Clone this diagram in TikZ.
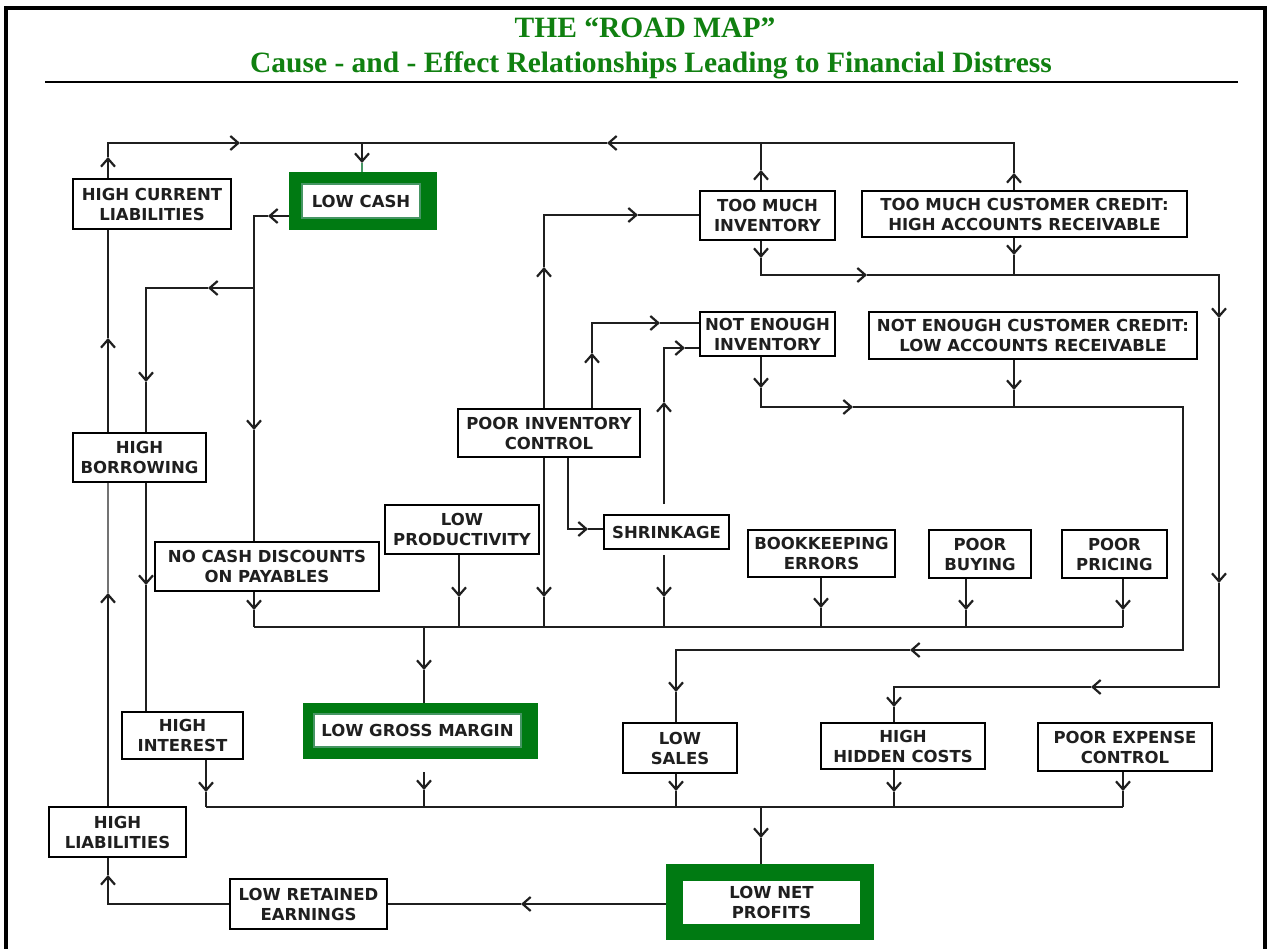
\documentclass[tikz,border=0pt]{standalone}
\usepackage{fontspec}
\usetikzlibrary{arrows.meta}
\newfontfamily\boxfam{DejaVu Sans}
\newfontfamily\titlefam{Liberation Serif}
\definecolor{dgreen}{RGB}{0,122,18}
\definecolor{lgreen}{RGB}{70,150,100}
\definecolor{tgreen}{RGB}{16,128,16}
\newcommand{\bxf}{\boxfam\bfseries\fontsize{16.5}{20}\selectfont}
\newcommand{\ttf}{\titlefam\bfseries\fontsize{29.5}{34}\selectfont}
\tikzset{
  box/.style={draw=black, line width=1.8pt, fill=white, inner sep=0pt, align=center, font=\bxf, text=black!88},
  gouter/.style={fill=dgreen, draw=dgreen, line width=0.5pt, inner sep=0pt},
  ginner/.style={fill=white, draw=lgreen, line width=1.5pt, inner sep=0pt, align=center, font=\bxf, text=black!88},
  con/.style={line width=2.2pt, draw=black!88},
  arr/.style={con, -{Straight Barb[length=8pt,width=14pt,line width=2.2pt]}},
  ttl/.style={font=\ttf, text=tgreen, anchor=base, inner sep=0pt},
}
\begin{document}
\begin{tikzpicture}[x=1pt,y=-1pt]
\useasboundingbox (0,0) rectangle (1267,949);
\fill[white] (0,0) rectangle (1267,949);
% frame and title
\draw[line width=3.5pt] (6,949) -- (6,8) -- (1265,8) -- (1265,949);
\node[ttl] (title1) at (645,38) {THE “ROAD MAP”};
\node[ttl] (title2) at (651,73) {Cause - and - Effect Relationships Leading to Financial Distress};
\draw[line width=1.8pt] (45,82) -- (1238,82);

% boxes
\node[box, minimum width=158, minimum height=50] (hcl) at (152,204) {HIGH CURRENT\\LIABILITIES};
\node[gouter, minimum width=147, minimum height=57] (lowcash) at (362.5,200.5) {};
\node[ginner, minimum width=118, minimum height=34] (lowcashin) at (361,201) {LOW CASH};
\node[box, minimum width=135, minimum height=49] (tmi) at (767.5,215.5) {TOO MUCH\\INVENTORY};
\node[box, minimum width=325, minimum height=46] (tmcc) at (1024.5,214) {TOO MUCH CUSTOMER CREDIT:\\HIGH ACCOUNTS RECEIVABLE};
\node[box, minimum width=135, minimum height=44] (nei) at (767.5,334) {NOT ENOUGH\\INVENTORY};
\node[box, minimum width=328, minimum height=47] (necc) at (1033,335.5) {NOT ENOUGH CUSTOMER CREDIT:\\LOW ACCOUNTS RECEIVABLE};
\node[box, minimum width=133, minimum height=49] (hb) at (139.5,457.5) {HIGH\\BORROWING};
\node[box, minimum width=182, minimum height=48] (pic) at (549,433) {POOR INVENTORY\\CONTROL};
\node[box, minimum width=154, minimum height=49] (lp) at (462,529.5) {LOW\\PRODUCTIVITY};
\node[box, minimum width=125, minimum height=34] (shr) at (666.5,532) {SHRINKAGE};
\node[box, minimum width=224, minimum height=49] (ncd) at (267,566.5) {NO CASH DISCOUNTS\\ON PAYABLES};
\node[box, minimum width=147, minimum height=47] (be) at (821.5,553.5) {BOOKKEEPING\\ERRORS};
\node[box, minimum width=102, minimum height=48] (pb) at (980,554) {POOR\\BUYING};
\node[box, minimum width=105, minimum height=48] (pp) at (1114.5,554) {POOR\\PRICING};
\node[gouter, minimum width=234, minimum height=55] (lgm) at (420,730.5) {};
\node[ginner, minimum width=207, minimum height=33] (lgmin) at (417.5,730.5) {LOW GROSS MARGIN};
\node[box, minimum width=121, minimum height=47] (hi) at (182.5,735.5) {HIGH\\INTEREST};
\node[box, minimum width=114, minimum height=50] (ls) at (680,748) {LOW\\SALES};
\node[box, minimum width=164, minimum height=46] (hhc) at (903,746) {HIGH\\HIDDEN COSTS};
\node[box, minimum width=174, minimum height=48] (pec) at (1125,747) {POOR EXPENSE\\CONTROL};
\node[box, minimum width=137, minimum height=50] (hl) at (117.5,832) {HIGH\\LIABILITIES};
\node[box, minimum width=157, minimum height=50] (lre) at (308.5,904) {LOW RETAINED\\EARNINGS};
\node[gouter, minimum width=207, minimum height=75] (lnp) at (769.5,901.5) {};
\node[ginner, minimum width=177, minimum height=43, draw=none] (lnpin) at (771.5,902.5) {LOW NET\\PROFITS};

% ---- top loop: HIGH CURRENT LIABILITIES -> LOW CASH
\coordinate (tA) at (108,157);
\coordinate (bA) at (108,143);
\coordinate (tB) at (240,143);
\coordinate (bB) at (362,143);
\coordinate (tC) at (362,163);
\draw[arr] (hcl.north -| tA) -- (tA);
\draw[arr] (tA) -- (bA) -- (tB);
\draw[arr] (tB) -- (bB) -- (tC);
\draw[con, draw=lgreen] (tC) -- (lowcash.north -| tC);
% TOO MUCH CUSTOMER CREDIT -> top line
\coordinate (tD) at (1014,173);
\coordinate (bD) at (1014,143);
\coordinate (tE) at (607,143);
\draw[arr] (tmcc.north -| tD) -- (tD);
\draw[arr] (tD) -- (bD) -- (tE);
\draw[con] (tE) -- (bB);
% TOO MUCH INVENTORY -> top line
\coordinate (tF) at (761,170);
\draw[arr] (tmi.north -| tF) -- (tF);
\draw[con] (tF) -- (tF |- bD);

% ---- LOW CASH -> NO CASH DISCOUNTS, HIGH BORROWING
\coordinate (tG) at (268,216);
\coordinate (bG) at (254,216);
\coordinate (jG) at (254,288);
\coordinate (tH) at (254,430);
\draw[arr] (lowcash.west |- tG) -- (tG);
\draw[arr] (tG) -- (bG) -- (tH);
\draw[con] (tH) -- (ncd.north -| tH);
\coordinate (tI) at (208,288);
\coordinate (bI) at (146,288);
\coordinate (tJ) at (146,382);
\draw[arr] (jG) -- (tI);
\draw[arr] (tI) -- (bI) -- (tJ);
\draw[con] (tJ) -- (hb.north -| tJ);
% HIGH BORROWING -> HIGH CURRENT LIABILITIES
\coordinate (tK) at (108,338);
\draw[arr] (hb.north -| tK) -- (tK);
\draw[con] (tK) -- (hcl.south -| tK);
% HIGH LIABILITIES -> HIGH BORROWING
\coordinate (tL) at (108,593);
\draw[arr] (hl.north -| tL) -- (tL);
\draw[con, draw=black!55] (tL) -- (hb.south -| tL);
% HIGH BORROWING -> HIGH INTEREST
\coordinate (tM) at (146,585);
\draw[arr] (hb.south -| tM) -- (tM);
\draw[con] (tM) -- (hi.north -| tM);

% ---- first bus -> LOW GROSS MARGIN
\coordinate (busAL) at (254,627);
\coordinate (busAR) at (1123,627);
\draw[con] (busAL) -- (busAR);
\coordinate (f1) at (254,610);
\coordinate (f2) at (459,597);
\coordinate (f3) at (544,597);
\coordinate (f4) at (664,597);
\coordinate (f5) at (821,608);
\coordinate (f6) at (966,610);
\coordinate (f7) at (1123,610);
\draw[arr] (ncd.south -| f1) -- (f1);
\draw[con] (f1) -- (f1 |- busAL);
\draw[arr] (lp.south -| f2) -- (f2);
\draw[con] (f2) -- (f2 |- busAL);
\draw[arr] (pic.south -| f3) -- (f3);
\draw[con] (f3) -- (f3 |- busAL);
\draw[arr, shorten <=5pt] (shr.south -| f4) -- (f4);
\draw[con] (f4) -- (f4 |- busAL);
\draw[arr] (be.south -| f5) -- (f5);
\draw[con] (f5) -- (f5 |- busAL);
\draw[arr] (pb.south -| f6) -- (f6);
\draw[con] (f6) -- (f6 |- busAL);
\draw[arr] (pp.south -| f7) -- (f7);
\draw[con] (f7) -- (f7 |- busAL);
\coordinate (tN) at (424,670);
\draw[arr] (tN |- busAL) -- (tN);
\draw[con] (tN) -- (lgm.north -| tN);

% ---- POOR INVENTORY CONTROL -> TOO MUCH / NOT ENOUGH INVENTORY, SHRINKAGE
\coordinate (tO) at (544,267);
\coordinate (bO) at (544,215);
\coordinate (tP) at (638,215);
\draw[arr] (pic.north -| tO) -- (tO);
\draw[arr] (tO) -- (bO) -- (tP);
\draw[con] (tP) -- (tmi.west |- tP);
\coordinate (tQ) at (592,353);
\coordinate (bQ) at (592,323);
\coordinate (tR) at (660,323);
\draw[arr] (pic.north -| tQ) -- (tQ);
\draw[arr] (tQ) -- (bQ) -- (tR);
\draw[con] (tR) -- (nei.west |- tR);
\coordinate (bS) at (568,529);
\coordinate (tS) at (588,529);
\draw[arr] (pic.south -| bS) -- (bS) -- (tS);
\draw[con] (tS) -- (shr.west |- tS);
% SHRINKAGE -> NOT ENOUGH INVENTORY
\coordinate (tT) at (664,402);
\coordinate (bT) at (664,348);
\coordinate (tU) at (685,348);
\draw[arr, shorten <=10pt] (shr.north -| tT) -- (tT);
\draw[arr] (tT) -- (bT) -- (tU);
\draw[con] (tU) -- (nei.west |- tU);

% ---- TOO MUCH INVENTORY / CREDIT -> HIGH HIDDEN COSTS
\coordinate (tV) at (761,258);
\coordinate (bV) at (761,275);
\coordinate (tW) at (867,275);
\coordinate (bW) at (1219,275);
\coordinate (tX) at (1219,318);
\coordinate (tY) at (1219,583);
\coordinate (bY) at (1219,687);
\coordinate (tZ) at (1091,687);
\coordinate (bZ) at (894,687);
\coordinate (tZZ) at (894,707);
\draw[arr] (tmi.south -| tV) -- (tV);
\draw[arr] (tV) -- (bV) -- (tW);
\draw[arr] (tW) -- (bW) -- (tX);
\draw[arr] (tX) -- (tY);
\draw[arr] (tY) -- (bY) -- (tZ);
\draw[arr] (tZ) -- (bZ) -- (tZZ);
\draw[con] (tZZ) -- (hhc.north -| tZZ);
\coordinate (tD2) at (1014,255);
\draw[arr] (tmcc.south -| tD2) -- (tD2);
\draw[con] (tD2) -- (tD2 |- bV);

% ---- NOT ENOUGH INVENTORY / CREDIT -> LOW SALES
\coordinate (ta) at (761,388);
\coordinate (ba) at (761,407);
\coordinate (tb) at (853,407);
\coordinate (bb) at (1183,407);
\coordinate (bc) at (1183,650);
\coordinate (tc) at (910,650);
\coordinate (bd) at (676,650);
\coordinate (td) at (676,692);
\draw[arr] (nei.south -| ta) -- (ta);
\draw[arr] (ta) -- (ba) -- (tb);
\draw[arr] (tb) -- (bb) -- (bc) -- (tc);
\draw[arr] (tc) -- (bd) -- (td);
\draw[con] (td) -- (ls.north -| td);
\coordinate (te) at (1014,390);
\draw[arr] (necc.south -| te) -- (te);
\draw[con] (te) -- (te |- ba);

% ---- second bus -> LOW NET PROFITS
\coordinate (busBL) at (206,807);
\coordinate (busBR) at (1123,807);
\draw[con] (busBL) -- (busBR);
\coordinate (g1) at (206,792);
\coordinate (g2) at (424,790);
\coordinate (g3) at (676,791);
\coordinate (g4) at (894,792);
\coordinate (g5) at (1123,791);
\draw[arr] (hi.south -| g1) -- (g1);
\draw[con] (g1) -- (g1 |- busBL);
\draw[arr, shorten <=14pt] (lgm.south -| g2) -- (g2);
\draw[con] (g2) -- (g2 |- busBL);
\draw[arr] (ls.south -| g3) -- (g3);
\draw[con] (g3) -- (g3 |- busBL);
\draw[arr] (hhc.south -| g4) -- (g4);
\draw[con] (g4) -- (g4 |- busBL);
\draw[arr] (pec.south -| g5) -- (g5);
\draw[con] (g5) -- (g5 |- busBL);
\coordinate (th) at (761,838);
\draw[arr] (th |- busBL) -- (th);
\draw[con] (th) -- (lnp.north -| th);

% ---- LOW NET PROFITS -> LOW RETAINED EARNINGS -> HIGH LIABILITIES
\coordinate (ti) at (521,904);
\draw[arr] (lnp.west |- ti) -- (ti);
\draw[con] (ti) -- (lre.east |- ti);
\coordinate (bj) at (108,904);
\coordinate (tj) at (108,875);
\draw[arr] (lre.west |- bj) -- (bj) -- (tj);
\draw[con] (tj) -- (hl.south -| tj);
\end{tikzpicture}
\end{document}
